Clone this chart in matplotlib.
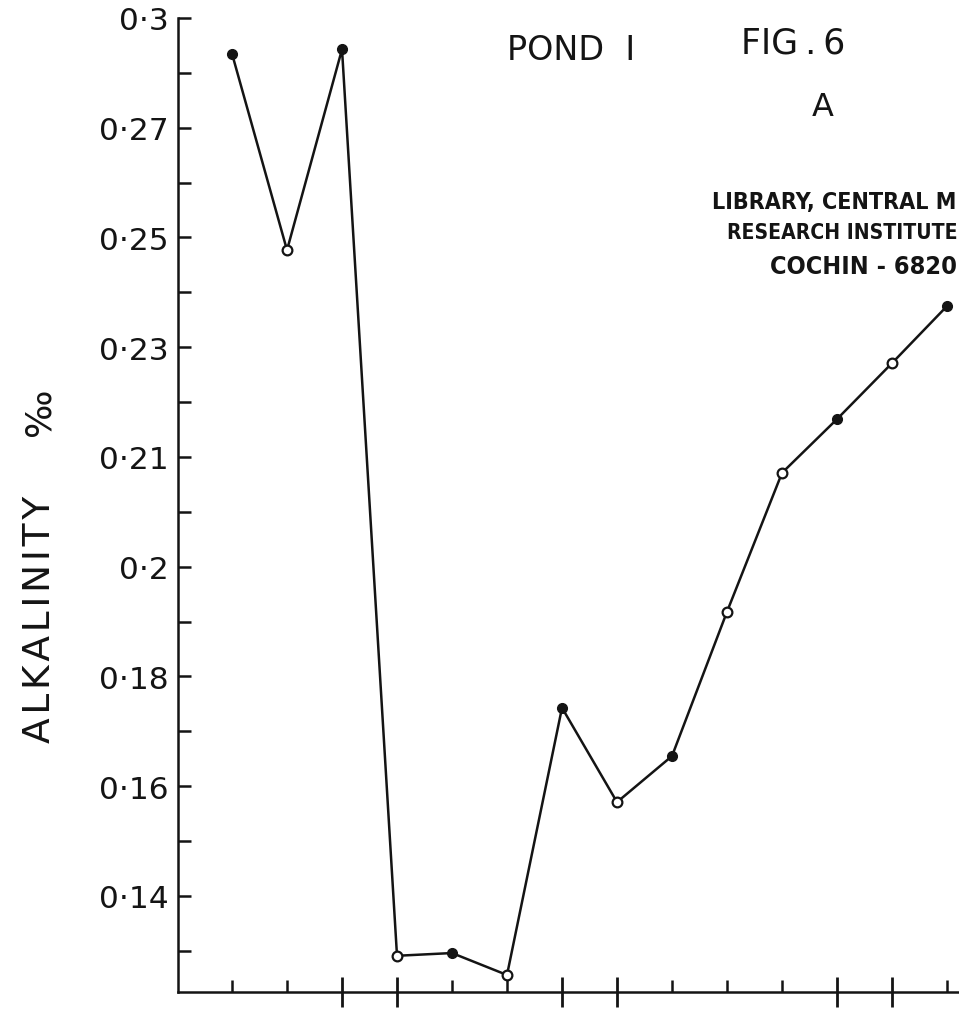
import matplotlib
matplotlib.use("Agg")
import matplotlib.pyplot as plt
from matplotlib.ticker import FixedLocator, FixedFormatter, NullFormatter

# Sampling occasions and total alkalinity (parts per thousand), Pond I
occasion = [1, 2, 3, 4, 5, 6, 7, 8, 9, 10, 11, 12, 13, 14]
alkalinity = [0.2935, 0.2577, 0.2943, 0.1291, 0.1296, 0.1256, 0.1743,
              0.1571, 0.1655, 0.1918, 0.2171, 0.2269, 0.2371, 0.2475]
solid_marker = [True, False, True, False, True, False, True,
                False, True, False, False, True, False, True]

# Hand-lettered y-axis scale
y_tick_values = [0.14, 0.16, 0.18, 0.20, 0.22, 0.24, 0.26, 0.28, 0.30]
y_tick_labels = ["0·14", "0·16", "0·18", "0·2", "0·21", "0·23", "0·25", "0·27", "0·3"]
y_minor_values = [0.13, 0.15, 0.17, 0.19, 0.21, 0.23, 0.25, 0.27, 0.29]

# x-axis tick marks: long ticks group the months, short ones mark the rest
x_long_ticks = [3, 4, 7, 8, 12, 13]
x_short_ticks = [1, 2, 5, 6, 9, 10, 11, 14]

# library stamp lines
stamp_lines = ["LIBRARY, CENTRAL M", "RESEARCH INSTITUTE", "COCHIN - 6820"]

W, H = 959, 1020
ink = "#141414"
fig = plt.figure(figsize=(W / 100, H / 100), dpi=100)
fig.patch.set_facecolor("white")

ax = fig.add_axes([178 / W, 1 - 993 / H, (W - 178) / W, (993 - 19) / H])
ax.set_xlim(0.018, 14.218)
ax.set_ylim(0.1225, 0.30)

for side in ("top", "right"):
    ax.spines[side].set_visible(False)
for side in ("left", "bottom"):
    ax.spines[side].set_linewidth(1.8)
    ax.spines[side].set_color(ink)

# connecting line
ax.plot(occasion, alkalinity, color=ink, lw=1.8, zorder=2, clip_on=False)

# solid and open markers
xs_f = [x for x, s in zip(occasion, solid_marker) if s]
ys_f = [y for y, s in zip(alkalinity, solid_marker) if s]
xs_o = [x for x, s in zip(occasion, solid_marker) if not s]
ys_o = [y for y, s in zip(alkalinity, solid_marker) if not s]
ax.plot(xs_f, ys_f, ls="none", marker="o", ms=7, mfc=ink, mec=ink,
        zorder=3, clip_on=False)
ax.plot(xs_o, ys_o, ls="none", marker="o", ms=7, mfc="white", mec=ink,
        mew=1.6, zorder=3, clip_on=False)

# y axis ticks
ax.yaxis.set_major_locator(FixedLocator(y_tick_values))
ax.yaxis.set_major_formatter(FixedFormatter(y_tick_labels))
ax.yaxis.set_minor_locator(FixedLocator(y_minor_values))
ax.tick_params(axis="y", which="both", direction="in", length=9, width=1.8,
               color=ink, pad=7, labelsize=22.5, labelcolor=ink)

# x axis ticks
ax.xaxis.set_major_locator(FixedLocator(x_long_ticks))
ax.xaxis.set_minor_locator(FixedLocator(x_short_ticks))
ax.xaxis.set_major_formatter(NullFormatter())
ax.xaxis.set_minor_formatter(NullFormatter())
ax.tick_params(axis="x", which="major", direction="inout", length=22,
               width=2.0, color=ink)
ax.tick_params(axis="x", which="minor", direction="in", length=9,
               width=1.8, color=ink)


def px(x, y):
    return x / W, 1 - y / H


# axis title
fig.text(*px(40, 619), "A\u200aL\u200aK\u200aA\u200aL\u200aI\u200aN\u200aI\u200aT\u200aY",
         rotation=90, ha="center", va="center", fontsize=27, color=ink)
fig.text(*px(40, 412), "‰", rotation=90, ha="center", va="center",
         fontsize=26, color=ink)

# headings
fig.text(*px(571, 50), "POND  I", ha="center", va="center",
         fontsize=24, color=ink)
fig.text(*px(793, 43), "FIG\u2009.\u20096", ha="center", va="center",
         fontsize=25, color=ink)
fig.text(*px(823, 107), "A", ha="center", va="center",
         fontsize=23, color=ink)

# library stamp, each line fitted to the space left at the right edge
renderer = fig.canvas.get_renderer()
stamp_layout = [(712, 203, 19.0), (727, 233, 17.5), (770, 267, 19.0)]
for text, (x0, y0, size) in zip(stamp_lines, stamp_layout):
    t = fig.text(*px(x0, y0), text, ha="left", va="center", fontsize=size,
                 fontweight="bold", fontstretch="condensed",
                 family="DejaVu Sans", color=ink)
    avail = (W - 3) - x0
    width = t.get_window_extent(renderer).width
    if width > avail:
        t.set_fontsize(size * avail / width)

fig.savefig("out.png", dpi=100, facecolor="white")
